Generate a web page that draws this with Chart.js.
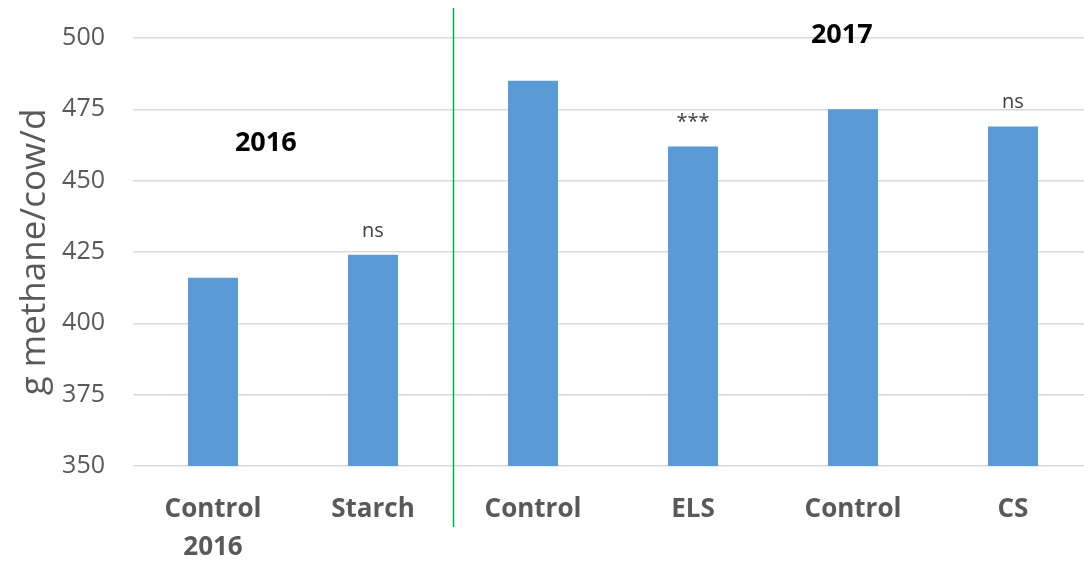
<!DOCTYPE html>
<html>
<head>
<meta charset="utf-8">
<script src="https://cdn.jsdelivr.net/npm/chart.js@4"></script>
<style>
  html, body { margin: 0; padding: 0; background: #fff; overflow: hidden; }
  #wrap { position: relative; width: 1093px; height: 563px; }
</style>
</head>
<body>
<div id="wrap"><canvas id="methane"></canvas></div>
<script>
// data
var categories = [['Control', '2016'], 'Starch', 'Control', 'ELS', 'Control', 'CS'];
var methane = [416, 424, 485, 462, 475, 469];
var significance = ['', 'ns', '', '***', '', 'ns'];
var yTicks = [350, 375, 400, 425, 450, 475, 500];
// year captions, placed in data units (category index, g/cow/d)
var years = [
    { text: '2016', x: 0.33, y: 463 },
    { text: '2017', x: 3.93, y: 500.8 }
];
var dividerAt = 1.5; // between the 2016 and 2017 trials

Chart.defaults.font.family = '"Open Sans", sans-serif';

// draws the ns / *** marks, year captions and the green divider line
var extras = {
    id: 'extras',
    afterDraw: function (chart) {
        var ctx = chart.ctx;
        var xs = chart.scales.x, ys = chart.scales.y;
        var meta = chart.getDatasetMeta(0);
        ctx.save();

        ctx.font = '20px "Open Sans"';
        ctx.fillStyle = '#404040';
        ctx.textAlign = 'center';
        ctx.textBaseline = 'alphabetic';
        meta.data.forEach(function (bar, i) {
            if (significance[i]) ctx.fillText(significance[i], bar.x, bar.y - 18);
        });

        ctx.font = 'bold 27px "Open Sans"';
        ctx.fillStyle = '#000';
        ctx.textBaseline = 'middle';
        years.forEach(function (y) {
            ctx.fillText(y.text, xs.getPixelForValue(y.x), ys.getPixelForValue(y.y));
        });

        var gx = Math.round(xs.getPixelForValue(dividerAt)) + 0.5;
        ctx.strokeStyle = '#00b050';
        ctx.lineWidth = 1.5;
        ctx.beginPath();
        ctx.moveTo(gx, chart.chartArea.top - 30);
        ctx.lineTo(gx, chart.chartArea.bottom + 61);
        ctx.stroke();
        ctx.restore();
    }
};

var ctx = document.getElementById('methane').getContext('2d');
var chart = new Chart(ctx, {
    type: 'bar',
    data: {
        labels: categories,
        datasets: [{
            label: 'g methane/cow/d',
            data: methane,
            backgroundColor: '#5b9bd5',
            borderWidth: 0,
            categoryPercentage: 1,
            barPercentage: 0.3125
        }]
    },
    options: {
        responsive: true,
        maintainAspectRatio: false,
        animation: false,
        layout: { padding: { top: 38, left: 0, right: 0, bottom: 0 } },
        plugins: {
            legend: { display: false },
            tooltip: { enabled: false }
        },
        scales: {
            x: {
                grid: { display: false },
                border: { display: false },
                ticks: {
                    color: '#595959',
                    font: { size: 26, weight: 'bold', lineHeight: 1.45 },
                    padding: 17,
                    maxRotation: 0,
                    autoSkip: false
                },
                afterFit: function (scale) { scale.height = 97; }
            },
            y: {
                min: 350,
                max: 500,
                afterBuildTicks: function (scale) {
                    scale.ticks = yTicks.map(function (v) { return { value: v }; });
                },
                grid: { color: '#d9d9d9', lineWidth: 1.5, drawTicks: false },
                border: { display: false },
                ticks: {
                    color: '#595959',
                    // small lineHeight keeps the top label from pushing the plot down
                    font: { size: 25, lineHeight: 0.4 },
                    padding: 28
                },
                title: {
                    display: true,
                    text: 'g methane/cow/d',
                    color: '#595959',
                    font: { size: 35 },
                    padding: { top: 14, bottom: 0 }
                },
                afterFit: function (scale) { scale.width = 133; }
            }
        }
    },
    plugins: [extras]
});
</script>
</body>
</html>
